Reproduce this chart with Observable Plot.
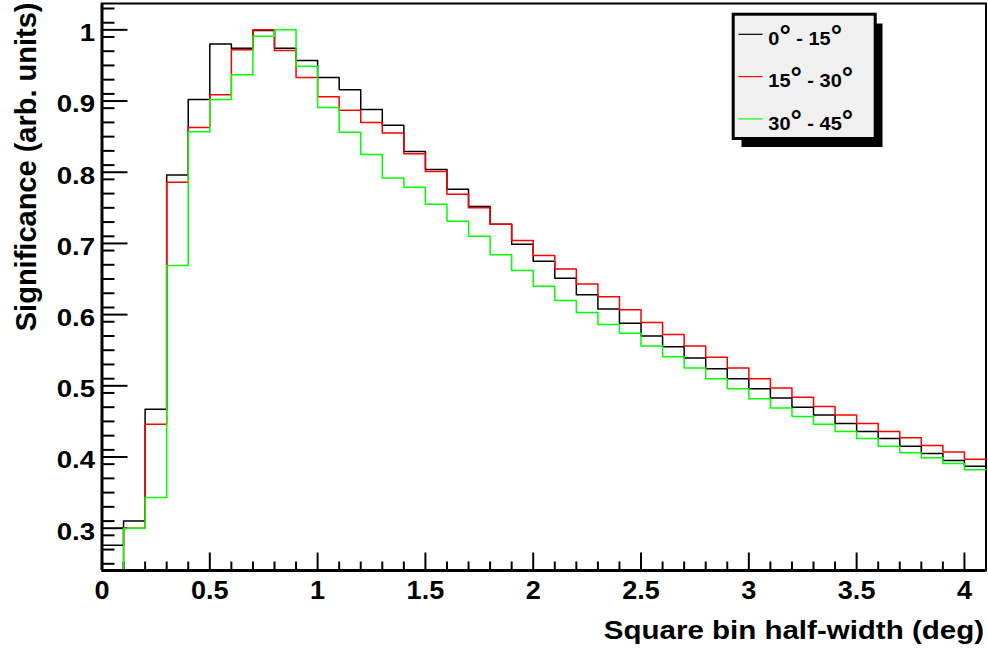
<!DOCTYPE html>
<html>
<head>
<meta charset="utf-8">
<script src="https://cdn.jsdelivr.net/npm/d3@7"></script>
<script src="https://cdn.jsdelivr.net/npm/@observablehq/plot@0.6"></script>
<style>
  html, body { margin: 0; padding: 0; background: white; }
  #chart svg { display: block; }
</style>
</head>
<body>
<div id="chart"></div>
<script>
// ---- data ----
const binEdges = [0.0, 0.1, 0.2, 0.3, 0.4, 0.5, 0.6, 0.7, 0.8, 0.9,
  1.0, 1.1, 1.2, 1.3, 1.4, 1.5, 1.6, 1.7, 1.8, 1.9,
  2.0, 2.1, 2.2, 2.3, 2.4, 2.5, 2.6, 2.7, 2.8, 2.9,
  3.0, 3.1, 3.2, 3.3, 3.4, 3.5, 3.6, 3.7, 3.8, 3.9, 4.0];
const binWidth = 0.1;

const series0to15 = [0.276, 0.310, 0.467, 0.796, 0.902, 0.980, 0.974, 0.999, 0.974, 0.957,
  0.933, 0.916, 0.888, 0.866, 0.829, 0.804, 0.776, 0.752, 0.727, 0.699,
  0.675, 0.651, 0.628, 0.608, 0.588, 0.570, 0.555, 0.539, 0.524, 0.510,
  0.496, 0.483, 0.470, 0.459, 0.447, 0.436, 0.426, 0.415, 0.405, 0.395, 0.387];
const series15to30 = [0.241, 0.300, 0.446, 0.786, 0.863, 0.909, 0.972, 1.000, 0.971, 0.933,
  0.906, 0.887, 0.870, 0.855, 0.826, 0.801, 0.769, 0.750, 0.727, 0.704,
  0.683, 0.664, 0.643, 0.625, 0.607, 0.589, 0.572, 0.556, 0.540, 0.525,
  0.510, 0.497, 0.484, 0.471, 0.459, 0.447, 0.436, 0.427, 0.416, 0.407, 0.397];
const series30to45 = [0.241, 0.300, 0.343, 0.669, 0.857, 0.902, 0.937, 0.991, 1.000, 0.949,
  0.891, 0.856, 0.825, 0.792, 0.779, 0.755, 0.731, 0.710, 0.684, 0.662,
  0.640, 0.620, 0.603, 0.586, 0.574, 0.556, 0.541, 0.525, 0.510, 0.496,
  0.482, 0.469, 0.457, 0.446, 0.436, 0.426, 0.415, 0.406, 0.399, 0.391, 0.382];

const seriesNames = ["0° - 15°", "15° - 30°", "30° - 45°"];
const seriesColors = ["#000000", "#ff0000", "#00ff00"];
const seriesValues = [series0to15, series15to30, series30to45];

const xMajorTicks = [0, 0.5, 1, 1.5, 2, 2.5, 3, 3.5, 4];
const yMajorTicks = [0.3, 0.4, 0.5, 0.6, 0.7, 0.8, 0.9, 1];
const xTitle = "Square bin half-width (deg)";
const yTitle = "Significance (arb. units)";
const xDomain = [0, 4.1];
const yDomain = [0.2406, 1.037];

// ---- layout ----
const W = 988, H = 650;
const mL = 101.5, mR = 2.5, mT = 3, mB = 80;
const plotW = W - mL - mR, plotH = H - mT - mB;

const xMinorTicks = d3.range(1, 41).map(i => i / 10).filter(v => !xMajorTicks.some(t => Math.abs(t - v) < 1e-9));
const yMinorTicks = d3.range(25, 104, 2).map(i => i / 100).filter(v => v > yDomain[0] && v < yDomain[1] && !yMajorTicks.some(t => Math.abs(t - v) < 1e-9));

// step rows: each bin's left edge plus closing right edge
const rows = [];
seriesNames.forEach((name, s) => {
  const vals = seriesValues[s];
  binEdges.forEach((x, i) => rows.push({series: name, x, y: vals[i]}));
  rows.push({series: name, x: binEdges[binEdges.length - 1] + binWidth, y: vals[vals.length - 1]});
});

const fmt = d3.format("~g");
const FONT = "'Liberation Sans', Arial, Helvetica, sans-serif";

const chart = Plot.plot({
  width: W, height: H,
  marginLeft: mL, marginRight: mR, marginTop: mT, marginBottom: mB,
  style: {background: "white", fontFamily: FONT, fontWeight: "bold", color: "black"},
  x: {domain: xDomain, label: null},
  y: {domain: yDomain, label: null},
  color: {domain: seriesNames, range: seriesColors},
  marks: [
    Plot.frame({stroke: "black", strokeWidth: 2}),
    Plot.tickX(xMinorTicks, {x: d => d, insetTop: plotH - 8.5, stroke: "black", strokeWidth: 2}),
    Plot.tickX(xMajorTicks, {x: d => d, insetTop: plotH - 17.5, stroke: "black", strokeWidth: 2}),
    Plot.tickY(yMinorTicks, {y: d => d, insetRight: plotW - 13, stroke: "black", strokeWidth: 2}),
    Plot.tickY(yMajorTicks, {y: d => d, insetRight: plotW - 26, stroke: "black", strokeWidth: 2}),
    Plot.line(rows, {x: "x", y: "y", z: "series", stroke: "series", curve: "step-after", strokeWidth: 1.5}),
    Plot.ruleX([xDomain[0]], {stroke: "black", strokeWidth: 3}),
    Plot.ruleY([yDomain[0]], {stroke: "black", strokeWidth: 3}),
    Plot.axisX({ticks: xMajorTicks, tickSize: 0, tickPadding: 10, tickFormat: fmt, fontSize: 26}),
    Plot.axisY({ticks: yMajorTicks, tickSize: 0, tickPadding: 7, tickFormat: fmt, fontSize: 23, dy: 4}),
    Plot.text([xTitle], {text: d => d, frameAnchor: "bottom-right", textAnchor: "end", lineAnchor: "bottom", dx: -2, dy: 68, fontSize: 26}),
    Plot.text([yTitle], {text: d => d, frameAnchor: "top-left", rotate: -90, textAnchor: "end", lineAnchor: "bottom", dx: 35 - mL, dy: -1, fontSize: 29})
  ]
});

document.getElementById("chart").appendChild(chart);

// horizontal stretch for ROOT-like wide lettering
function stretch(textEl, sx) {
  const t = textEl.getAttribute("transform");
  if (t) textEl.setAttribute("transform", t + ` scale(${sx},1)`);
  else {
    const x = +textEl.getAttribute("x") || 0, y = +textEl.getAttribute("y") || 0;
    textEl.setAttribute("transform", `translate(${x},${y}) scale(${sx},1) translate(${-x},${-y})`);
  }
}
chart.querySelectorAll("text").forEach(t => {
  const g = t.closest("g");
  const label = g ? (g.getAttribute("aria-label") || "") : "";
  const s = t.textContent;
  if (s === xTitle) stretch(t, 1.135);
  else if (label.startsWith("y-axis")) stretch(t, 1.2);
  else if (label.startsWith("x-axis")) stretch(t, 1.04);
});

// ---- legend (ROOT TLegend style with shadow) ----
const svg = d3.select(chart);
const lg = svg.append("g").attr("aria-label", "legend").attr("text-anchor", "start");
lg.append("rect").attr("x", 741.5).attr("y", 23.5).attr("width", 141).attr("height", 123.5).attr("fill", "black");
lg.append("rect").attr("x", 733.2).attr("y", 14.2).attr("width", 142).attr("height", 124.3)
  .attr("fill", "#f0f0f0").attr("stroke", "black").attr("stroke-width", 3);
seriesNames.forEach((name, i) => {
  const ly = 34.3 + i * 42.3;
  lg.append("line").attr("x1", 738.5).attr("x2", 762.5).attr("y1", ly).attr("y2", ly)
    .attr("stroke", seriesColors[i]).attr("stroke-width", 1.2);
  const txt = lg.append("text")
    .attr("text-anchor", "start")
    .attr("transform", `translate(768.3,${ly + 10.7}) scale(1.05,1)`)
    .attr("font-size", 19).attr("font-weight", "bold")
    .attr("font-family", FONT)
    .attr("fill", "black");
  const parts = name.split("°");
  parts.forEach((p, j) => {
    if (p) txt.append("tspan").text(p);
    if (j < parts.length - 1) txt.append("tspan").attr("font-size", 27).text("°");
  });
});
</script>
</body>
</html>
